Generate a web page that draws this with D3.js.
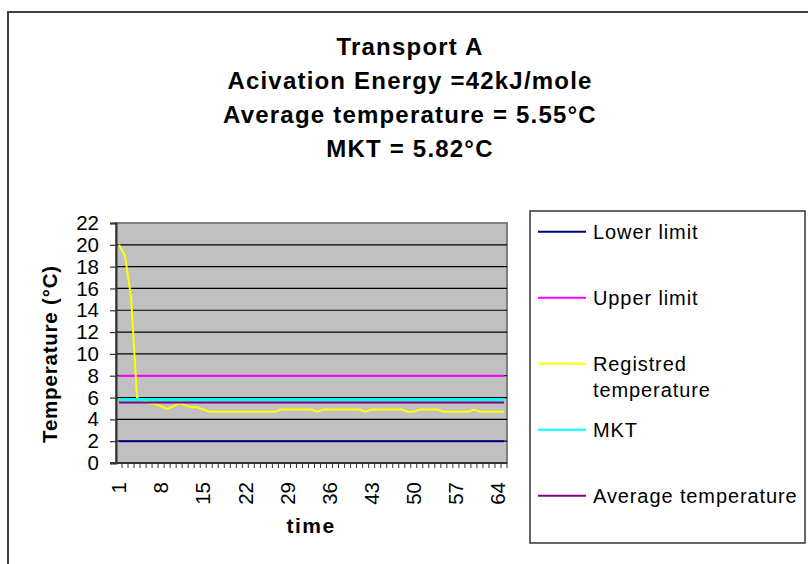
<!DOCTYPE html>
<html lang="en">
  <head>
    <meta charset="UTF-8" />
    <script src="https://d3js.org/d3.v7.min.js"></script>
    <title>Transport A</title>
    <style>
      body { margin: 0; background: #fff; }
      text { font-family: "Liberation Sans", Arial, sans-serif; }
    </style>
  </head>
  <body>
    <svg id="chart" width="808" height="564"></svg>
  </body>
  <script>
    // categories (time steps) shown on the x axis
    var categories = [
      1, 2, 3, 4, 5, 6, 7, 8, 9, 10, 11, 12, 13, 14, 15, 16, 17, 18, 19, 20,
      21, 22, 23, 24, 25, 26, 27, 28, 29, 30, 31, 32, 33, 34, 35, 36, 37, 38, 39, 40,
      41, 42, 43, 44, 45, 46, 47, 48, 49, 50, 51, 52, 53, 54, 55, 56, 57, 58, 59, 60,
      61, 62, 63, 64, 65
    ];
    var xTickLabels = [1, 8, 15, 22, 29, 36, 43, 50, 57, 64];
    var yTicks = [0, 2, 4, 6, 8, 10, 12, 14, 16, 18, 20, 22];

    // registred temperature, one value per category
    var registred = [
      20, 19, 15.2, 6.0, 5.7, 5.5, 5.4, 5.2, 4.95, 5.2, 5.5, 5.3, 5.1, 5.1, 4.9, 4.7,
      4.7, 4.7, 4.7, 4.7, 4.7, 4.7, 4.7, 4.7, 4.7, 4.7, 4.7,
      4.9, 4.9, 4.9, 4.9, 4.9, 4.9,
      4.7,
      4.9, 4.9, 4.9, 4.9, 4.9, 4.9, 4.9,
      4.7,
      4.9, 4.9, 4.9, 4.9, 4.9, 4.9,
      4.7, 4.7,
      4.9, 4.9, 4.9, 4.9,
      4.7, 4.7, 4.7, 4.7, 4.7,
      4.9,
      4.7, 4.7, 4.7, 4.7, 4.7
    ];
    var lowerLimit = 2;
    var upperLimit = 8;
    var mkt = 5.82;
    var average = 5.55;

    var seriesNames = ["Lower limit", "Upper limit", "Registred temperature", "MKT", "Average temperature"];
    var seriesColors = ["#000080", "#ff00ff", "#ffff00", "#00ffff", "#800080"];
    var titleLines = [
      "Transport A",
      "Acivation Energy =42kJ/mole",
      "Average temperature = 5.55°C",
      "MKT = 5.82°C"
    ];

    var svg = d3.select("#chart");

    // chart area frame (only top and left visible)
    svg.append("rect")
      .attr("x", 8).attr("y", 12)
      .attr("width", 820).attr("height", 580)
      .attr("fill", "#fff")
      .attr("stroke", "#404040")
      .attr("stroke-width", 2);

    // title
    svg.append("g")
      .selectAll("text")
      .data(titleLines)
      .enter()
      .append("text")
      .attr("x", 410)
      .attr("y", (d, i) => 55 + i * 33.9)
      .attr("text-anchor", "middle")
      .style("font-size", "24px")
      .style("font-weight", "bold")
      .style("letter-spacing", "1.2px")
      .text(d => d);

    // scales
    var plot = { left: 116, right: 507, top: 223, bottom: 463 };
    var x = d3.scaleBand().domain(categories).range([plot.left, plot.right]).padding(0);
    var y = d3.scaleLinear().domain([0, 22]).range([plot.bottom, plot.top]);
    var cx = d => x(d) + x.bandwidth() / 2;

    // plot background
    svg.append("rect")
      .attr("x", plot.left).attr("y", plot.top)
      .attr("width", plot.right - plot.left)
      .attr("height", plot.bottom - plot.top)
      .attr("fill", "#c0c0c0")
      .attr("stroke", "#808080")
      .attr("stroke-width", 2);

    // gridlines
    svg.append("g")
      .selectAll("line")
      .data(yTicks.filter(d => d > 0 && d < 22))
      .enter()
      .append("line")
      .attr("x1", plot.left).attr("x2", plot.right)
      .attr("y1", d => y(d)).attr("y2", d => y(d))
      .attr("stroke", "#000")
      .attr("stroke-width", 1.2);

    // y axis
    var yAxis = svg.append("g")
      .attr("transform", "translate(" + plot.left + ",0)")
      .call(d3.axisLeft(y).tickValues(yTicks).tickSize(6).tickPadding(11));
    yAxis.select(".domain").attr("stroke", "#333").attr("stroke-width", 2);
    yAxis.selectAll(".tick line").attr("stroke", "#333").attr("stroke-width", 1.2);
    yAxis.selectAll(".tick text")
      .style("font-size", "20.5px")
      .style("font-family", "'Liberation Sans', Arial, sans-serif")
      .attr("fill", "#000");

    // x axis line and ticks on category boundaries
    svg.append("line")
      .attr("x1", plot.left - 6).attr("x2", plot.right)
      .attr("y1", plot.bottom).attr("y2", plot.bottom)
      .attr("stroke", "#333").attr("stroke-width", 2);
    svg.append("g")
      .selectAll("line")
      .data(categories)
      .enter()
      .append("line")
      .attr("x1", d => x(d) + x.bandwidth()).attr("x2", d => x(d) + x.bandwidth())
      .attr("y1", plot.bottom).attr("y2", plot.bottom + 5)
      .attr("stroke", "#333").attr("stroke-width", 1);

    svg.append("g")
      .selectAll("text")
      .data(xTickLabels)
      .enter()
      .append("text")
      .attr("transform", d => "translate(" + cx(d) + "," + 482 + ") rotate(-90)")
      .attr("text-anchor", "end")
      .attr("dy", "0.35em")
      .style("font-size", "20.5px")
      .text(d => d);

    // axis titles
    svg.append("text")
      .attr("transform", "translate(57,354) rotate(-90)")
      .attr("text-anchor", "middle")
      .style("font-size", "20.5px")
      .style("font-weight", "bold")
      .style("letter-spacing", "0.8px")
      .text("Temperature (°C)");
    svg.append("text")
      .attr("x", 311).attr("y", 533)
      .attr("text-anchor", "middle")
      .style("font-size", "21px")
      .style("font-weight", "bold")
      .style("letter-spacing", "1.5px")
      .text("time");

    // series
    var series = [
      categories.map(() => lowerLimit),
      categories.map(() => upperLimit),
      registred,
      categories.map(() => mkt),
      categories.map(() => average)
    ];
    var widths = [2, 2, 2, 3, 2];
    var line = d3.line()
      .x((d, i) => cx(categories[i]))
      .y(d => y(d));

    svg.append("g")
      .selectAll("path")
      .data(series)
      .enter()
      .append("path")
      .attr("d", d => line(d))
      .attr("fill", "none")
      .attr("stroke", (d, i) => seriesColors[i])
      .attr("stroke-width", (d, i) => widths[i]);

    // legend
    svg.append("rect")
      .attr("x", 530).attr("y", 211)
      .attr("width", 275).attr("height", 332)
      .attr("fill", "#fff")
      .attr("stroke", "#333")
      .attr("stroke-width", 1.5);

    var legend = svg.append("g")
      .selectAll("g")
      .data(seriesNames)
      .enter()
      .append("g")
      .attr("transform", (d, i) => "translate(0," + (231.7 + i * 66) + ")");

    legend.append("line")
      .attr("x1", 538).attr("x2", 586)
      .attr("stroke", (d, i) => seriesColors[i])
      .attr("stroke-width", 2);

    legend.append("text")
      .attr("x", 593)
      .attr("dy", "0.35em")
      .style("font-size", "20px")
      .style("letter-spacing", "0.9px")
      .each(function (d) {
        var t = d3.select(this);
        if (d === "Registred temperature") {
          t.append("tspan").attr("x", 593).text("Registred");
          t.append("tspan").attr("x", 593).attr("dy", "1.3em").text("temperature");
        } else {
          t.text(d);
        }
      });
  </script>
</html>
